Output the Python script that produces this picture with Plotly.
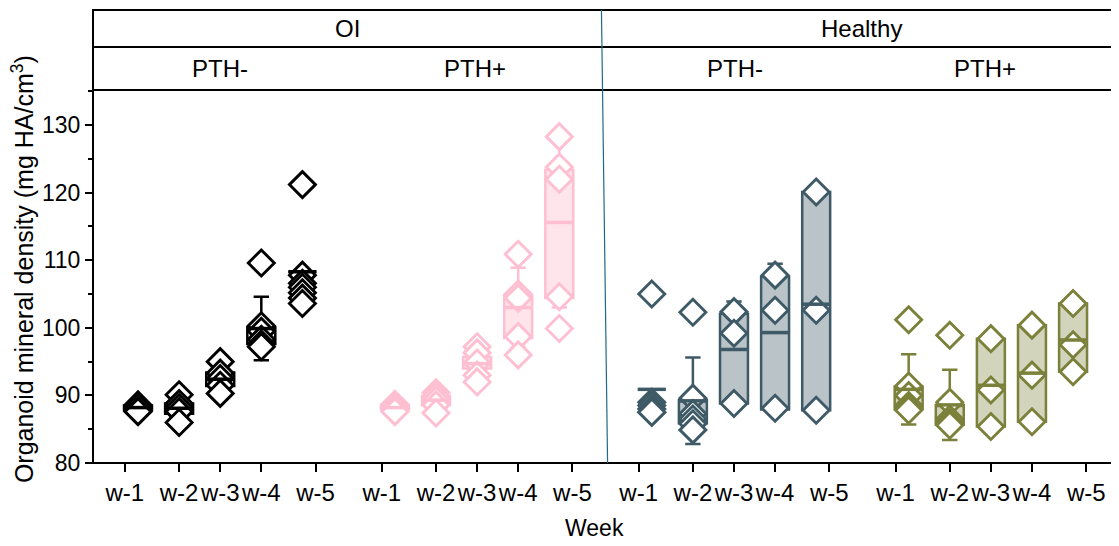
import plotly.graph_objects as go

weeks = ["w-1", "w-2", "w-3", "w-4", "w-5"]
conditions = ["OI", "Healthy"]
treatments = ["PTH-", "PTH+"]

# ---- data (mg HA/cm3) ----
oi_minus_points = [
    [88.6, 88.4, 88.2, 87.7, 87.6],
    [90.1, 88.8, 88.2, 87.6, 86.0],
    [95.0, 93.3, 92.5, 91.5, 90.3],
    [109.6, 100.3, 99.5, 98.3, 97.6, 97.2],
    [121.2, 107.8, 106.6, 106.0, 105.2, 104.4, 103.6],
]
oi_minus_mean = [88.2, 88.1, 92.4, 99.9, 108.3]
oi_minus_sd = [0.4, 1.4, 1.8, 4.7, 6.6]
oi_minus_q1 = [87.8, 87.3, 91.4, 97.6, 103.8]
oi_minus_q3 = [88.5, 88.8, 93.4, 100.1, 108.2]

oi_plus_points = [
    [88.7, 88.4, 88.2, 87.9, 87.6],
    [90.4, 89.9, 89.3, 88.6, 87.4],
    [97.2, 96.3, 94.8, 93.0, 92.0],
    [110.9, 105.0, 104.4, 98.7, 96.0],
    [128.3, 123.8, 122.0, 104.6, 99.9],
]
oi_plus_mean = [88.2, 89.3, 94.7, 103.0, 115.6]
oi_plus_sd = [0.4, 1.2, 2.1, 5.9, 12.6]
oi_plus_q1 = [87.9, 88.6, 94.0, 98.5, 104.4]
oi_plus_q3 = [88.5, 89.9, 95.7, 104.8, 123.4]

healthy_minus_points = [
    [105.0, 89.0, 88.5, 88.0, 87.5, 87.5],
    [102.3, 89.6, 87.3, 86.5, 85.8, 84.9],
    [102.4, 99.2, 88.8],
    [107.8, 102.6, 88.1],
    [120.1, 102.6, 87.8],
]
healthy_minus_mean = [90.9, 89.2, 96.8, 99.3, 103.5]
healthy_minus_sd = [6.9, 6.4, 7.1, 10.2, 16.2]
healthy_minus_q1 = [87.8, 85.9, 88.8, 87.9, 87.8]
healthy_minus_q3 = [89.3, 89.3, 102.1, 107.6, 120.1]

healthy_plus_points = [
    [101.2, 91.4, 90.0, 88.5, 88.2, 87.8],
    [98.9, 89.0, 86.5, 86.0, 85.8, 85.6],
    [98.4, 90.8, 85.4],
    [100.4, 93.0, 86.1],
    [103.6, 97.5, 93.5],
]
healthy_plus_mean = [90.9, 88.6, 91.5, 93.3, 98.2]
healthy_plus_sd = [5.2, 5.2, 6.5, 7.2, 5.1]
healthy_plus_q1 = [88.0, 85.7, 85.4, 86.1, 93.5]
healthy_plus_q3 = [91.3, 88.6, 98.4, 100.4, 103.6]

# ---- layout / style (positions are in axis units) ----
GROUP_STEP = 6.25
TICK_SHIFT = [-0.32, 0.0, 0.0, 0.0, 0.32]
FONT = "Liberation Sans, Arial, sans-serif"

groups = [
    (oi_minus_points, oi_minus_mean, oi_minus_sd, oi_minus_q1, oi_minus_q3,
     "#000000", "rgba(0,0,0,0)"),
    (oi_plus_points, oi_plus_mean, oi_plus_sd, oi_plus_q1, oi_plus_q3,
     "#FFBFD2", "rgba(255,191,210,0.42)"),
    (healthy_minus_points, healthy_minus_mean, healthy_minus_sd, healthy_minus_q1, healthy_minus_q3,
     "#3E5A66", "rgba(62,90,102,0.36)"),
    (healthy_plus_points, healthy_plus_mean, healthy_plus_sd, healthy_plus_q1, healthy_plus_q3,
     "#7B803A", "rgba(123,128,58,0.34)"),
]

fig = go.Figure()
tickvals, ticktext = [], []
for g, (pts, mean, sd, q1, q3, col, fill) in enumerate(groups):
    xs = [g * GROUP_STEP + k for k in range(len(weeks))]
    lf = [min(a, m - s) for a, m, s in zip(q1, mean, sd)]
    uf = [max(b, m + s) for b, m, s in zip(q3, mean, sd)]
    fig.add_trace(go.Box(
        x=xs, q1=q1, median=mean, q3=q3, lowerfence=lf, upperfence=uf,
        width=0.68, whiskerwidth=0.55, fillcolor=fill,
        line=dict(color=col, width=2.5), boxpoints=False,
        showlegend=False, hoverinfo="skip"))
    px, py = [], []
    for k, vals in enumerate(pts):
        px += [xs[k]] * len(vals)
        py += vals
    fig.add_trace(go.Scatter(
        x=px, y=py, mode="markers", showlegend=False,
        marker=dict(symbol="diamond", size=20, color="white",
                    line=dict(color=col, width=2.9))))
    fig.add_trace(go.Scatter(
        x=xs, y=mean, mode="markers", showlegend=False,
        marker=dict(symbol="line-ew", size=20,
                    line=dict(color=col, width=3.5))))
    for k, w in enumerate(weeks):
        tickvals.append(g * GROUP_STEP + k + TICK_SHIFT[k])
        ticktext.append(w)

H_PLOT = 0.8234   # top of the data area in paper units
H_MID = 0.9183    # line between the two header strips

shapes = [
    dict(type="rect", xref="paper", yref="paper", x0=0, x1=1, y0=0, y1=1,
         line=dict(color="black", width=2)),
    dict(type="line", xref="paper", yref="paper", x0=0, x1=1, y0=H_PLOT, y1=H_PLOT,
         line=dict(color="black", width=2)),
    dict(type="line", xref="paper", yref="paper", x0=0, x1=1, y0=H_MID, y1=H_MID,
         line=dict(color="black", width=2)),
    dict(type="line", xref="paper", yref="paper", x0=0.4975, x1=0.5035, y0=1, y1=0,
         line=dict(color="#1F6A8A", width=1.2)),
]

txtfont = dict(family=FONT, size=24, color="black")
annotations = []
for txt, xc in zip(conditions, [0.2495, 0.7524]):
    annotations.append(dict(text=txt, x=xc, y=(1 + H_MID) / 2, xref="paper", yref="paper",
                            showarrow=False, font=txtfont,
                            xanchor="center", yanchor="middle"))
for txt, xc in zip(treatments * 2, [0.1243, 0.3738, 0.6282, 0.8728]):
    annotations.append(dict(text=txt, x=xc, y=(H_MID + H_PLOT) / 2, xref="paper", yref="paper",
                            showarrow=False, font=txtfont,
                            xanchor="center", yanchor="middle"))
# axis titles
annotations.append(dict(text="Organoid mineral density (mg HA/cm<sup>3</sup>)",
                        x=-0.0685, y=0.428, xref="paper", yref="paper", textangle=-90,
                        showarrow=False, font=dict(family=FONT, size=25, color="black"),
                        xanchor="center", yanchor="middle"))
annotations.append(dict(text="Week", x=0.491, y=-0.1435, xref="paper", yref="paper",
                        showarrow=False, font=dict(family=FONT, size=23, color="black"),
                        xanchor="center", yanchor="middle"))

# the page body adds an 8px offset, so the figure is 8px smaller than the window
fig.update_layout(
    width=1111, height=538,
    margin=dict(l=85, r=4, t=2, b=83, autoexpand=False),
    paper_bgcolor="white", plot_bgcolor="white",
    boxmode="overlay",
    font=dict(family=FONT, size=23, color="black"),
    shapes=shapes, annotations=annotations,
    xaxis=dict(range=[-1.095, 23.77], tickvals=tickvals, ticktext=ticktext,
               ticks="outside", ticklen=8, tickwidth=2, tickcolor="black", tickangle=0,
               showgrid=False, zeroline=False, showline=False, automargin=False,
               tickfont=dict(family=FONT, size=24)),
    yaxis=dict(domain=[0, H_PLOT], range=[80, 135.2], tickvals=[80, 90, 100, 110, 120, 130],
               ticks="outside", ticklen=7, tickwidth=2, tickcolor="black",
               minor=dict(dtick=5, tick0=80, ticks="outside", ticklen=4, tickwidth=1.5, tickcolor="black"),
               showgrid=False, zeroline=False, showline=False, automargin=False,
               tickfont=dict(family=FONT, size=23)),
)

fig.write_html("out.html")
